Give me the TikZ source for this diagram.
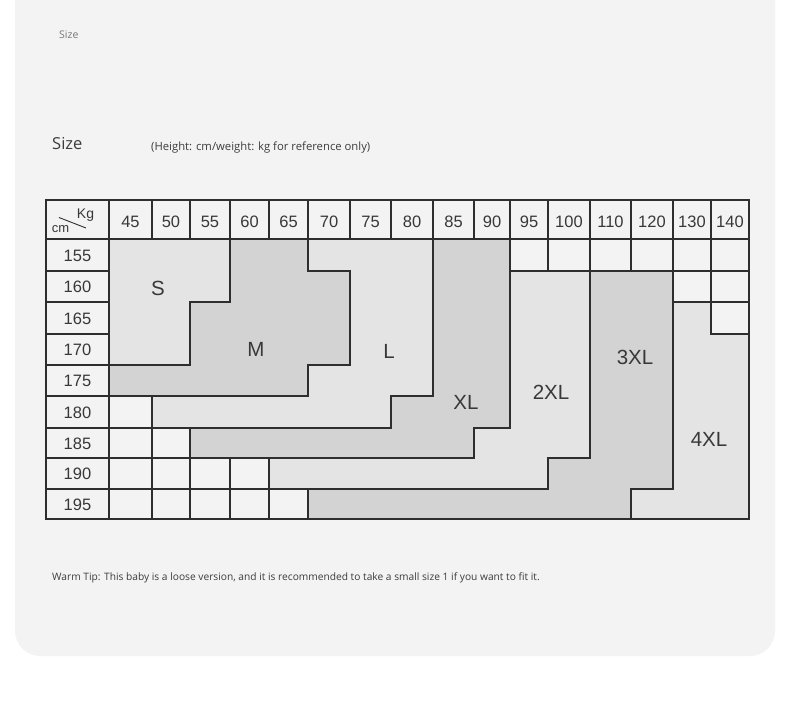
\documentclass[tikz,border=0pt]{standalone}
\usepackage{fontspec}
\setmainfont{Liberation Sans}
\newfontfamily\capfont{Open Sans}
\definecolor{cardbg}{HTML}{F3F3F3}
\definecolor{lightreg}{HTML}{E4E4E4}
\definecolor{darkreg}{HTML}{D3D3D3}
\definecolor{gridc}{HTML}{2E2E2E}
\definecolor{txt}{HTML}{383838}
\definecolor{captxt}{HTML}{3C3C3C}
\begin{document}
\begin{tikzpicture}[x=1pt,y=-1pt,
  gridline/.style={draw=gridc, line width=1.05pt},
  regionline/.style={draw=gridc, line width=1.05pt, line join=miter},
  numtxt/.style={text=txt, font=\fontsize{16.5}{16.5}\selectfont, inner sep=0pt},
  sizetxt/.style={text=txt, font=\fontsize{20.5}{20.5}\selectfont, inner sep=0pt},
  captext/.style={text=captxt, inner sep=0pt, anchor=west}]
\useasboundingbox (0,0) rectangle (790,708);
\clip (0,0) rectangle (790,708);
% card
\fill[cardbg, rounded corners=25pt] (15,-40) rectangle (775,656);
% captions
\node[captext, text=captxt!70, font=\capfont\fontsize{10.5}{10.5}\selectfont] (toplabel) at (59,35) {Size};
\node[captext, font=\capfont\fontsize{16.5}{16.5}\selectfont] (title) at (52,144) {Size};
\node[captext, font=\capfont\fontsize{11.3}{11.3}\selectfont] (subtitle) at (151,147.5) {(Height: cm/weight: kg for reference only)};
\node[captext, font=\capfont\fontsize{10.2}{10.2}\selectfont] (tip) at (52,578) {Warm Tip: This baby is a loose version, and it is recommended to take a small size 1 if you want to fit it.};
% regions (fills)
\fill[lightreg] (109,239) -- (230,239) -- (230,302) -- (190,302) -- (190,365) -- (109,365) -- cycle;
\fill[darkreg] (230,239) -- (308,239) -- (308,271) -- (350,271) -- (350,365) -- (308,365) -- (308,396) -- (109,396) -- (109,365) -- (190,365) -- (190,302) -- (230,302) -- cycle;
\fill[lightreg] (308,239) -- (433,239) -- (433,396) -- (391,396) -- (391,428) -- (152,428) -- (152,396) -- (308,396) -- (308,365) -- (350,365) -- (350,271) -- (308,271) -- cycle;
\fill[darkreg] (433,239) -- (510,239) -- (510,428) -- (474,428) -- (474,458) -- (190,458) -- (190,428) -- (391,428) -- (391,396) -- (433,396) -- cycle;
\fill[lightreg] (510,271) -- (590,271) -- (590,458) -- (548,458) -- (548,489) -- (269,489) -- (269,458) -- (474,458) -- (474,428) -- (510,428) -- cycle;
\fill[darkreg] (590,271) -- (673,271) -- (673,489) -- (631,489) -- (631,519) -- (308,519) -- (308,489) -- (548,489) -- (548,458) -- (590,458) -- cycle;
\fill[lightreg] (673,302) -- (711,302) -- (711,334) -- (749,334) -- (749,519) -- (631,519) -- (631,489) -- (673,489) -- cycle;
% region outlines
\draw[regionline] (230,239) -- (230,302) -- (190,302) -- (190,365) -- (109,365);
\draw[regionline] (308,239) -- (308,271) -- (350,271) -- (350,365) -- (308,365) -- (308,396) -- (109,396);
\draw[regionline] (433,239) -- (433,396) -- (391,396) -- (391,428) -- (152,428) -- (152,396);
\draw[regionline] (510,239) -- (510,428) -- (474,428) -- (474,458) -- (190,458) -- (190,428);
\draw[regionline] (510,271) -- (590,271) -- (590,458) -- (548,458) -- (548,489) -- (269,489) -- (269,458);
\draw[regionline] (590,271) -- (673,271) -- (673,489) -- (631,489) -- (631,519);
\draw[regionline] (308,489) -- (308,519);
\draw[regionline] (673,302) -- (711,302) -- (711,334) -- (749,334);
% white cells
\foreach \xa/\xb in {510/548,548/590,590/631,631/673,673/711,711/749}
  \draw[gridline] (\xa,239) rectangle (\xb,271);
\foreach \xa/\xb in {673/711,711/749}
  \draw[gridline] (\xa,271) rectangle (\xb,302);
\draw[gridline] (711,302) rectangle (749,334);
\draw[gridline] (109,396) rectangle (152,428);
\foreach \xa/\xb in {109/152,152/190}
  \draw[gridline] (\xa,428) rectangle (\xb,458);
\foreach \xa/\xb in {109/152,152/190,190/230,230/269}
  \draw[gridline] (\xa,458) rectangle (\xb,489);
\foreach \xa/\xb in {109/152,152/190,190/230,230/269,269/308}
  \draw[gridline] (\xa,489) rectangle (\xb,519);
% header row and first column
\foreach \x in {109,152,190,230,269,308,350,391,433,474,510,548,590,631,673,711}
  \draw[gridline] (\x,200) -- (\x,239);
\draw[gridline] (46,239) -- (749,239);
\foreach \y in {271,302,334,365,396,428,458,489}
  \draw[gridline] (46,\y) -- (109,\y);
\draw[gridline] (109,200) -- (109,519);
\draw[gridline] (46,200) rectangle (749,519);
% header corner
\node[numtxt, font=\fontsize{13}{13}\selectfont] (cm) at (60.5,229) {cm};
\node[numtxt, font=\fontsize{14}{14}\selectfont] (kg) at (85.5,215.5) {Kg};
\draw[draw=gridc, line width=0.9pt] (59,217.5) -- (86,228);
% column headers
\foreach \xc/\lab [count=\i] in {130.5/45,171/50,210/55,249.5/60,288.5/65,329/70,370.5/75,412/80,453.5/85,492/90,529/95,569/100,610.5/110,652/120,692/130,730/140}
  \node[numtxt] (kg\i) at (\xc,221.5) {\lab};
% row headers
\foreach \yc/\lab [count=\i] in {255.5/155,287/160,318.5/165,350/170,381/175,412.5/180,443.5/185,474/190,504.5/195}
  \node[numtxt] (cm\i) at (77.5,\yc) {\lab};
% size labels
\node[sizetxt] (sizeS) at (158,288) {S};
\node[sizetxt] (sizeM) at (256,349) {M};
\node[sizetxt] (sizeL) at (389,351) {L};
\node[sizetxt] (sizeXL) at (466,402) {XL};
\node[sizetxt] (size2XL) at (551,392) {2XL};
\node[sizetxt] (size3XL) at (635,357) {3XL};
\node[sizetxt] (size4XL) at (709,439) {4XL};
\end{tikzpicture}
\end{document}
